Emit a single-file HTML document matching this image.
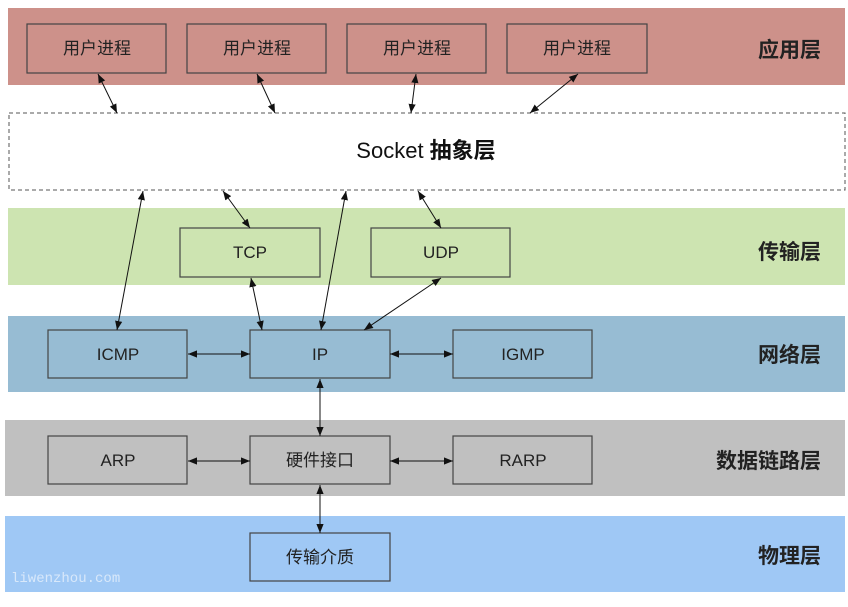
<!DOCTYPE html>
<html><head><meta charset="utf-8"><style>
html,body{margin:0;padding:0;background:#fff;}
svg text{font-family:"Liberation Sans","Noto Sans CJK SC",sans-serif;fill:#222;}
svg text.wm{font-family:"Liberation Mono","DejaVu Sans Mono",monospace;fill:#d8e8fa;}
</style></head><body>
<svg width="848" height="602" viewBox="0 0 848 602" xmlns="http://www.w3.org/2000/svg">
<defs>
<marker id="a" viewBox="0 0 10 10" refX="10" refY="5" markerWidth="9" markerHeight="9" orient="auto-start-reverse" markerUnits="userSpaceOnUse"><path d="M0,1 L10,5 L0,9 z" fill="#111"/></marker>
</defs>
<rect x="8" y="8" width="837" height="77" fill="#cd918a"/>
<rect x="9" y="113" width="836" height="77" fill="#fff" stroke="#555" stroke-dasharray="4,3"/>
<rect x="8" y="208" width="837" height="77" fill="#cde4b1"/>
<rect x="8" y="316" width="837" height="76" fill="#97bcd3"/>
<rect x="5" y="420" width="840" height="76" fill="#c0c0c0"/>
<rect x="5" y="516" width="840" height="76" fill="#9fc8f5"/>
<g stroke="#444" stroke-width="1.2" fill="none">
<rect x="27" y="24" width="139" height="49"/>
<rect x="187" y="24" width="139" height="49"/>
<rect x="347" y="24" width="139" height="49"/>
<rect x="507" y="24" width="140" height="49"/>
<rect x="180" y="228" width="140" height="49"/>
<rect x="371" y="228" width="139" height="49"/>
<rect x="48" y="330" width="139" height="48"/>
<rect x="250" y="330" width="140" height="48"/>
<rect x="453" y="330" width="139" height="48"/>
<rect x="48" y="436" width="139" height="48"/>
<rect x="250" y="436" width="140" height="48"/>
<rect x="453" y="436" width="139" height="48"/>
<rect x="250" y="533" width="140" height="48"/>
</g>
<g font-size="17" text-anchor="middle">
<text x="97" y="54">用户进程</text>
<text x="257" y="54">用户进程</text>
<text x="417" y="54">用户进程</text>
<text x="577" y="54">用户进程</text>
<text x="250" y="258">TCP</text>
<text x="441" y="258">UDP</text>
<text x="118" y="360">ICMP</text>
<text x="320" y="360">IP</text>
<text x="523" y="360">IGMP</text>
<text x="118" y="466">ARP</text>
<text x="320" y="466">硬件接口</text>
<text x="523" y="466">RARP</text>
<text x="320" y="563">传输介质</text>
</g>
<text x="426" y="158" font-size="22" text-anchor="middle" style="fill:#111">Socket <tspan font-weight="bold">抽象层</tspan></text>
<g font-size="21" font-weight="bold" text-anchor="end">
<text x="821" y="57">应用层</text>
<text x="821" y="259">传输层</text>
<text x="821" y="362">网络层</text>
<text x="821" y="468">数据链路层</text>
<text x="821" y="563">物理层</text>
</g>
<text class="wm" x="11" y="582" font-size="14">liwenzhou.com</text>
<g stroke="#111" stroke-width="1" marker-start="url(#a)" marker-end="url(#a)">
<line x1="98" y1="74" x2="117" y2="113"/>
<line x1="257" y1="74" x2="275" y2="113"/>
<line x1="416" y1="74" x2="411" y2="113"/>
<line x1="578" y1="74" x2="530" y2="113"/>
<line x1="143" y1="191" x2="117" y2="330"/>
<line x1="223" y1="191" x2="250" y2="228"/>
<line x1="346" y1="191" x2="321" y2="330"/>
<line x1="418" y1="191" x2="441" y2="228"/>
<line x1="251" y1="278" x2="262" y2="330"/>
<line x1="441" y1="278" x2="364" y2="330"/>
<line x1="188" y1="354" x2="250" y2="354"/>
<line x1="390" y1="354" x2="453" y2="354"/>
<line x1="188" y1="461" x2="250" y2="461"/>
<line x1="390" y1="461" x2="453" y2="461"/>
<line x1="320" y1="379" x2="320" y2="436"/>
<line x1="320" y1="485" x2="320" y2="533"/>
</g>
</svg>
</body></html>
